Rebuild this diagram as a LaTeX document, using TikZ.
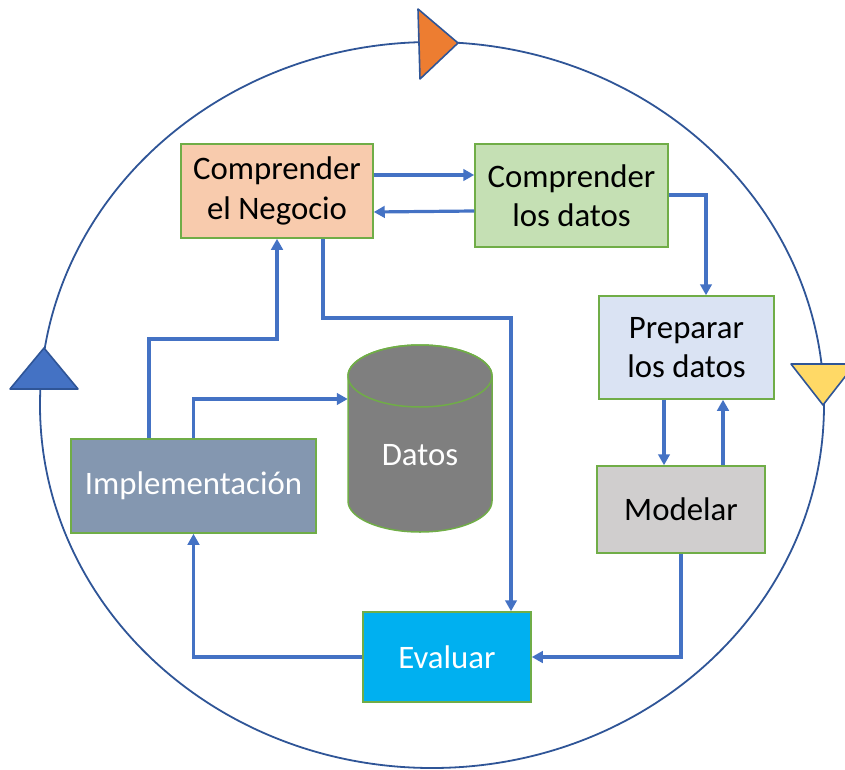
\documentclass[tikz,border=0pt]{standalone}
\usepackage{fontspec}
\setmainfont{Carlito}
\usetikzlibrary{arrows.meta}
\definecolor{flowblue}{HTML}{4472C4}
\definecolor{ringblue}{HTML}{2F5597}
\definecolor{boxgreen}{HTML}{70AD47}
\definecolor{negfill}{HTML}{F8CBAD}
\definecolor{datfill}{HTML}{C5E0B4}
\definecolor{prepfill}{HTML}{DAE3F3}
\definecolor{modfill}{HTML}{D0CECE}
\definecolor{implfill}{HTML}{8497B0}
\definecolor{dbfill}{HTML}{7F7F7F}
\definecolor{evafill}{HTML}{00B0F0}
\definecolor{triorange}{HTML}{ED7D31}
\definecolor{triyellow}{HTML}{FFD966}
\begin{document}
\begin{tikzpicture}[x=1pt,y=-1pt,
  stage/.style={draw=boxgreen,line width=1.5pt,inner sep=0pt,align=center,
    font=\fontsize{32.8}{39.5}\selectfont},
  arr/.style={draw=flowblue,line width=3.2pt,-{Triangle[length=11pt,width=11.5pt]}},
  marker/.style={draw=ringblue,line width=1.6pt,line join=round}]
\useasboundingbox (0,0) rectangle (845,770);
\clip (0,0) rectangle (845,770);

% outer cycle
\draw[ringblue,line width=1.8pt] (432,405) ellipse [x radius=392pt, y radius=363pt];

% direction markers on the cycle
\filldraw[marker,fill=triorange] (418,9) -- (458,43) -- (420,79) -- cycle;
\filldraw[marker,fill=flowblue] (44,348) -- (78,389) -- (10,389) -- cycle;
\filldraw[marker,fill=triyellow] (791,364) -- (855,364) -- (823,405) -- cycle;

% stages
\node[stage,fill=negfill,minimum width=192pt,minimum height=94pt] (neg) at (277,191) {Comprender\\el Negocio};
\node[stage,fill=datfill,minimum width=193pt,minimum height=103pt] (dat) at (571.5,195.5) {Comprender\\los datos};
\node[stage,fill=prepfill,minimum width=175pt,minimum height=103pt] (prep) at (686.5,347.5) {Preparar\\los datos};
\node[stage,fill=modfill,minimum width=168pt,minimum height=87pt] (mod) at (681,509.5) {Modelar};
\node[stage,fill=implfill,text=white,minimum width=245pt,minimum height=94pt] (impl) at (193.5,486) {Implementación};
\node[stage,fill=evafill,text=white,minimum width=168pt,minimum height=90pt] (eva) at (447,657) {Evaluar};

% data store
\filldraw[draw=boxgreen,fill=dbfill,line width=1.5pt]
  (348,376) -- (348,501) arc[start angle=180,end angle=360,x radius=72pt,y radius=31pt]
  -- (492,376) arc[start angle=0,end angle=180,x radius=72pt,y radius=31pt] -- cycle;
\draw[boxgreen,line width=1.5pt] (420,376) ellipse [x radius=72pt, y radius=31pt];
\node[font=\fontsize{32.8}{39.5}\selectfont,text=white,inner sep=0pt,minimum width=144pt] (db) at (420,455) {Datos};

% bend points
\coordinate (negbend) at (323,318);
\coordinate (implbend) at (149,339);

% flows
\draw[arr] (neg.east |- 0,175) -- (dat.west |- 0,175);
\draw[arr] (dat.west |- 0,211) -- (neg.east |- 0,212);
\draw[arr] (dat.east |- 0,195) -| (prep.north -| 706,0);
\draw[arr] (prep.south -| 664,0) -- (mod.north -| 664,0);
\draw[arr] (mod.north -| 723,0) -- (prep.south -| 723,0);
\draw[arr] (mod.south) |- (eva.east);
\draw[arr] (neg.south -| negbend) -- (negbend) -| (eva.north -| 511,0);
\draw[arr] (eva.west) -| (impl.south);
\draw[arr] (impl.north -| implbend) -- (implbend) -| (neg.south);
\draw[arr] (impl.north) |- (db.west |- 0,399);
\end{tikzpicture}
\end{document}
